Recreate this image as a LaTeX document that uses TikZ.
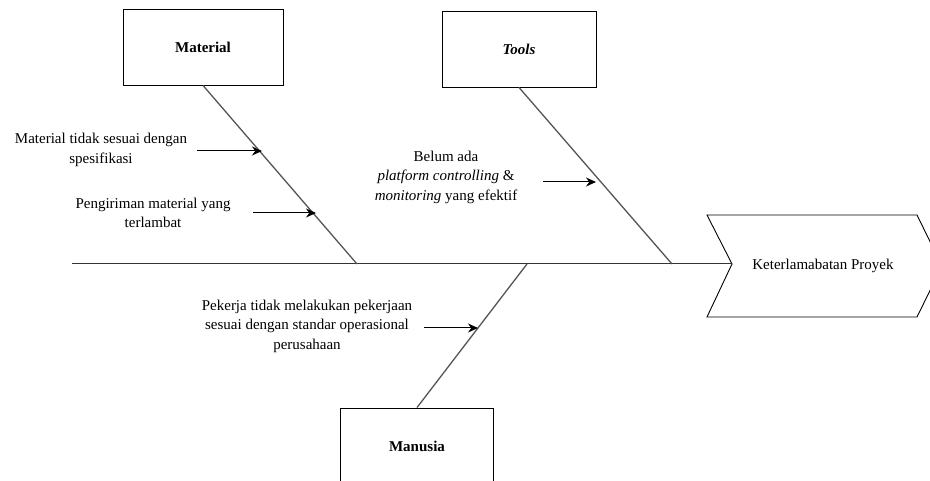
\documentclass[tikz,border=0pt]{standalone}
\usepackage{fontspec}
\setmainfont{Liberation Serif}
\usepackage{tikz}
\usetikzlibrary{arrows.meta}
\definecolor{bonegray}{HTML}{555555}
\tikzset{%
	every cause/.style={
		draw,
		line width=0.9pt,
		minimum height=76pt,
		font=\fontsize{15}{19.5}\selectfont\bfseries
	},
	cause text/.style={
		align=center,
		inner sep=0pt,
		font=\fontsize{15}{19.5}\selectfont
	},
}

\begin{document}
\begin{tikzpicture}[x=1pt,y=-1pt]
			\tikzstyle{bone}=[bonegray,line width=1.3pt]
			\tikzstyle{spine}=[black!80,line width=1pt]
			\tikzstyle{sub}=[-{Stealth[length=10pt,width=9pt]},line width=1pt]
			\useasboundingbox (0,0) rectangle (930,481);
			
			\node[every cause,minimum width=160pt](material) at (203,47){Material};
			\node[every cause,minimum width=154pt](tools) at (519,49){\itshape Tools};
			\node[every cause,minimum width=153pt](manusia) at (417,446){Manusia};
			
			% effect
			\coordinate (notch) at (732,264);
			\draw[line width=0.9pt] (707,215) -- (917,215) -- (942,266) -- (917,317) -- (707,317) -- (notch) -- cycle;
			\node[cause text](effect) at (823,266){Keterlamabatan Proyek};
			
			\coordinate (tail) at (72,264);
			\coordinate (jm) at (357,264);
			\coordinate (jt) at (672,264);
			\coordinate (jh) at (527,264);
			
			\draw[spine] (tail) -- (notch);
			\draw[bone] (material.south) -- (jm);
			\draw[bone] (tools.south) -- (jt);
			\draw[bone] (jh) -- (manusia.north);
			
			\node[cause text](m1) at (101,150){Material tidak sesuai dengan\\spesifikasi};
			\node[cause text](m2) at (153,213){Pengiriman material yang\\terlambat};
			\node[cause text](t1) at (446,177){Belum ada\\\textit{platform controlling} \&\\\textit{monitoring} yang efektif};
			\node[cause text](h1) at (307,326){Pekerja tidak melakukan pekerjaan\\sesuai dengan standar operasional\\perusahaan};
			
			\coordinate (m1s) at (197,151);
			\coordinate (m1e) at (262,151);
			\coordinate (m2s) at (253,213);
			\coordinate (m2e) at (316,213);
			\coordinate (t1s) at (543,182);
			\coordinate (t1e) at (596,182);
			\coordinate (h1s) at (424,328);
			\coordinate (h1e) at (478,328);
			
			\draw[sub] (m1s) -- (m1e);
			\draw[sub] (m2s) -- (m2e);
			\draw[sub] (t1s) -- (t1e);
			\draw[sub] (h1s) -- (h1e);
\end{tikzpicture}
\end{document}
